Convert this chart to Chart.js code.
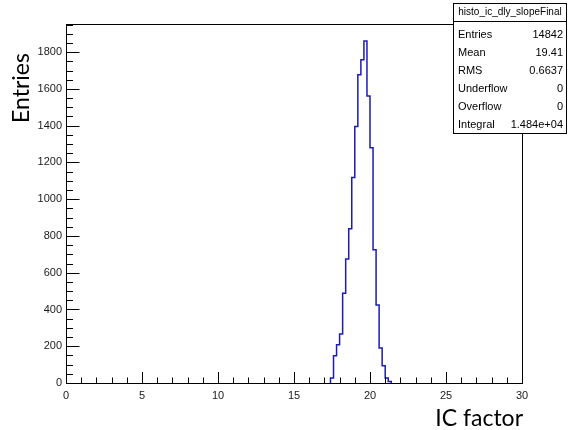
<!DOCTYPE html>
<html>
<head>
<meta charset="utf-8">
<script src="https://cdn.jsdelivr.net/npm/chart.js@4.4.1/dist/chart.umd.min.js"></script>
<style>
  html, body { margin: 0; padding: 0; background: #ffffff; }
  #wrap { width: 568px; height: 430px; position: relative; }
</style>
</head>
<body>
<div id="wrap"><canvas id="chartCanvas"></canvas></div>
<script>
// histogram bins (width 0.2), only the non-empty ones
const binEdges = [17.4, 17.6, 17.8, 18.0, 18.2, 18.4, 18.6, 18.8, 19.0, 19.2, 19.4,
                  19.6, 19.8, 20.0, 20.2, 20.4, 20.6, 20.8, 21.0, 21.2, 21.4];
const binCounts = [27, 148, 208, 266, 488, 674, 839, 1118, 1395, 1677,
                   1759, 1860, 1561, 1280, 725, 425, 190, 94, 27, 8];

// axes
const xTicks = [0, 5, 10, 15, 20, 25, 30];
const yTicks = [0, 200, 400, 600, 800, 1000, 1200, 1400, 1600, 1800];
const xRange = [0, 30];
const yRange = [0, 1953];

// stats box
const statsTitle = 'histo_ic_dly_slopeFinal';
const statsLabels = ['Entries', 'Mean', 'RMS', 'Underflow', 'Overflow', 'Integral'];
const statsValues = ['14842', '19.41', '0.6637', '0', '0', '1.484e+04'];

// step points: start at 0, one point per bin low edge, back to 0 at the last edge
const points = [{ x: binEdges[0], y: 0 }];
binCounts.forEach((c, i) => points.push({ x: binEdges[i], y: c }));
points.push({ x: binEdges[binEdges.length - 1], y: 0 });

const labelFont = { family: 'Liberation Sans', size: 11 };

// ROOT-like frame, inward ticks, axis titles and stats box
const rootStyle = {
  id: 'rootStyle',
  afterDraw(chart) {
    const { ctx, chartArea: a, scales } = chart;
    const xs = scales.x, ys = scales.y;
    ctx.save();
    ctx.strokeStyle = '#000';
    ctx.lineWidth = 1;
    ctx.strokeRect(Math.round(a.left) + 0.5, Math.round(a.top) + 0.5,
                   Math.round(a.right - a.left), Math.round(a.bottom - a.top));

    ctx.beginPath();
    // x ticks: major every 5, minor every 1
    for (let v = xRange[0]; v <= xRange[1]; v += 1) {
      const px = Math.round(xs.getPixelForValue(v)) + 0.5;
      const len = v % 5 === 0 ? 11 : 5.5;
      ctx.moveTo(px, a.bottom);
      ctx.lineTo(px, a.bottom - len);
    }
    // y ticks: major every 200, minor every 50
    for (let v = 0; v <= yRange[1]; v += 50) {
      const py = Math.round(ys.getPixelForValue(v)) + 0.5;
      const len = v % 200 === 0 ? 13.5 : 7;
      ctx.moveTo(a.left, py);
      ctx.lineTo(a.left + len, py);
    }
    ctx.stroke();

    // axis titles
    ctx.fillStyle = '#000';
    ctx.font = '23px Lato';
    ctx.textAlign = 'right';
    ctx.textBaseline = 'alphabetic';
    ctx.fillText('IC factor', 523, 426);
    ctx.save();
    ctx.translate(29, 88);
    ctx.rotate(-Math.PI / 2);
    ctx.textAlign = 'center';
    ctx.fillText('Entries', 0, 0);
    ctx.restore();

    // stats box
    const bx = 453.5, by = 3.5, bw = 113, bh = 130;
    ctx.fillStyle = '#fff';
    ctx.fillRect(bx, by, bw, bh);
    ctx.strokeRect(bx, by, bw, bh);
    ctx.beginPath();
    ctx.moveTo(bx, 21.5);
    ctx.lineTo(bx + bw, 21.5);
    ctx.stroke();
    ctx.fillStyle = '#000';
    ctx.textBaseline = 'middle';
    ctx.textAlign = 'center';
    ctx.font = '10px "Liberation Sans"';
    ctx.fillText(statsTitle, bx + bw / 2, 12.5);
    ctx.font = '11px "Liberation Sans"';
    statsLabels.forEach((lab, i) => {
      const y = 35 + i * 18;
      ctx.textAlign = 'left';
      ctx.fillText(lab, 458, y);
      ctx.textAlign = 'right';
      ctx.fillText(statsValues[i], 563, y);
    });
    ctx.restore();
  }
};

const ctx = document.getElementById('chartCanvas').getContext('2d');

const myChart = new Chart(ctx, {
  type: 'line',
  data: {
    datasets: [{
      label: statsTitle,
      data: points,
      stepped: true,
      borderColor: '#1c1cb4',
      borderWidth: 1.5,
      pointRadius: 0,
      fill: false
    }]
  },
  options: {
    responsive: true,
    maintainAspectRatio: false,
    animation: false,
    layout: { padding: { left: 0, right: 46, top: 24, bottom: 0 } },
    plugins: {
      legend: { display: false },
      title: { display: false },
      tooltip: { enabled: false }
    },
    scales: {
      x: {
        type: 'linear',
        min: xRange[0],
        max: xRange[1],
        grid: { display: false, drawTicks: false },
        border: { display: false },
        afterBuildTicks: s => { s.ticks = xTicks.map(v => ({ value: v })); },
        afterFit: s => { s.height = 47; },
        ticks: { color: '#1a1a1a', font: labelFont, padding: 6, maxRotation: 0, autoSkip: false,
                 callback: v => String(v) }
      },
      y: {
        type: 'linear',
        min: yRange[0],
        max: yRange[1],
        grid: { display: false, drawTicks: false },
        border: { display: false },
        afterBuildTicks: s => { s.ticks = yTicks.map(v => ({ value: v })); },
        afterFit: s => { s.width = 66; },
        ticks: { color: '#1a1a1a', font: labelFont, padding: 4, autoSkip: false,
                 callback: v => String(v) }
      }
    }
  },
  plugins: [rootStyle]
});
</script>
</body>
</html>
